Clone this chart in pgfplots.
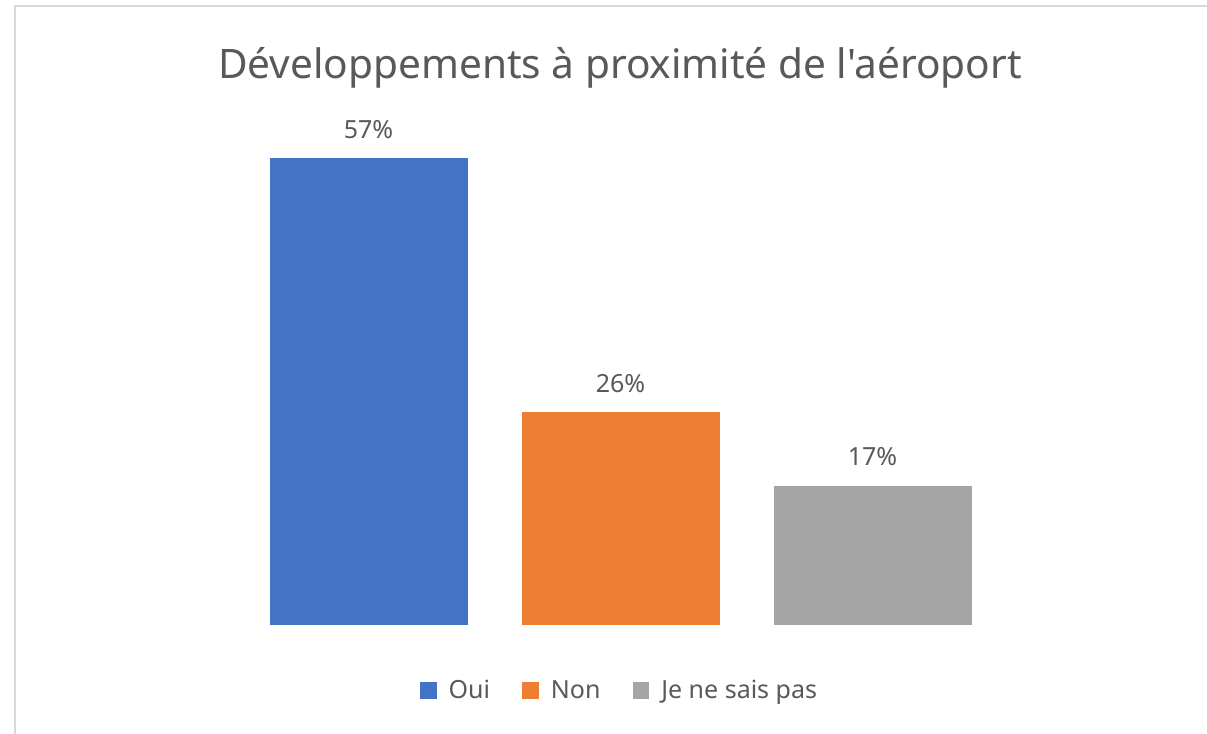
\documentclass[border=0pt]{standalone}
\usepackage{pgfplots}
\pgfplotsset{compat=1.18}
\usepackage{fontspec}
\setmainfont{Noto Sans}[Ligatures=TeXOff]
\definecolor{cblue}{HTML}{4472C4}
\definecolor{corange}{HTML}{ED7D31}
\definecolor{cgray}{HTML}{A5A5A5}
\definecolor{textgray}{HTML}{595959}
\definecolor{framegray}{HTML}{D9D9D9}
\begin{document}
\begin{tikzpicture}[x=0.5pt,y=0.5pt]
\useasboundingbox (0,0) rectangle (1207,734);
\fill[white] (0,0) rectangle (1207,734);
\draw[line width=1.25pt, color=framegray] (15,0) -- (15,728) -- (1207,728);
\node[anchor=base, inner sep=0pt, font=\fontsize{20.3}{24}\selectfont, text=textgray] at (620,655) {Développements à proximité de l'aéroport};
\begin{axis}[
    at={(121.25pt,54.5pt)}, anchor=south west,
    width=378pt, height=245.7pt, scale only axis,
    xmin=-0.5, xmax=2.5, ymin=0, ymax=60,
    axis lines=none,
    /pgf/number format/assume math mode=true,
    ybar, bar width=99pt, bar shift=0pt,
    nodes near coords={\pgfmathprintnumber{\pgfplotspointmeta}\%},
    every node near coord/.append style={font=\fontsize{12.5}{15}\selectfont, text=textgray, anchor=base, inner sep=0pt, yshift=10pt},
    legend style={at={(0.5,-0.134)}, anchor=center, draw=none, fill=none,
        legend columns=3, font=\fontsize{12.5}{15}\selectfont, text=textgray,
        /tikz/every even column/.append style={column sep=14pt},
        /tikz/every odd column/.append style={column sep=4pt}},
    legend image code/.code={\fill[#1] (0pt,-4.2pt) rectangle (8.4pt,4.2pt);},
]
\addplot[fill=cblue, draw=none] coordinates {(0,57)};
\addplot[fill=corange, draw=none] coordinates {(1,26)};
\addplot[fill=cgray, draw=none] coordinates {(2,17)};
\legend{Oui, Non, Je ne sais pas}
\end{axis}
\end{tikzpicture}
\end{document}
